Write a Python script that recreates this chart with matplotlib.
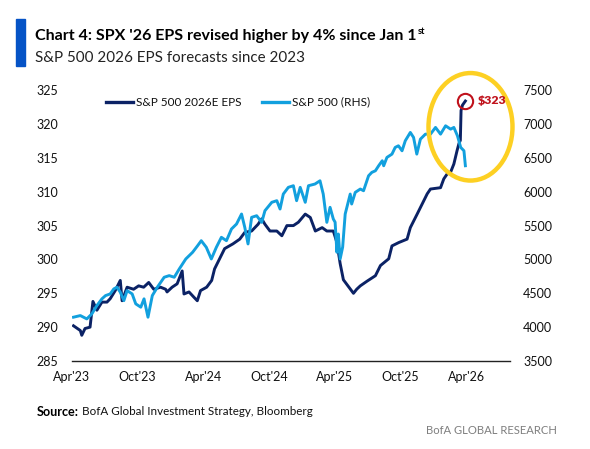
import matplotlib
matplotlib.use("Agg")
import matplotlib.pyplot as plt
from matplotlib.patches import Ellipse, Rectangle
from matplotlib.lines import Line2D
import pandas as pd

# ---------------- data ----------------
eps_dates = ["2023-04-06", "2023-04-25", "2023-04-29", "2023-05-08", "2023-05-22", "2023-05-30",
             "2023-06-10", "2023-06-24", "2023-07-08", "2023-07-17", "2023-07-31", "2023-08-14",
             "2023-08-19", "2023-09-02", "2023-09-20", "2023-10-04", "2023-10-18", "2023-11-01",
             "2023-11-15", "2023-12-04", "2023-12-18", "2023-12-22", "2024-01-05", "2024-01-19",
             "2024-02-02", "2024-02-07", "2024-02-21", "2024-03-06", "2024-03-15", "2024-03-24",
             "2024-04-10", "2024-04-24", "2024-05-02", "2024-05-16", "2024-05-30", "2024-06-22",
             "2024-07-11", "2024-07-25", "2024-08-13", "2024-08-31", "2024-09-10", "2024-09-19",
             "2024-10-03", "2024-10-22", "2024-11-05", "2024-11-19", "2024-12-07", "2024-12-21",
             "2025-01-09", "2025-01-23", "2025-02-06", "2025-02-25", "2025-03-10", "2025-03-28",
             "2025-04-07", "2025-04-16", "2025-04-25", "2025-05-09", "2025-05-23", "2025-06-01",
             "2025-06-11", "2025-06-30", "2025-07-23", "2025-08-06", "2025-08-29", "2025-09-07",
             "2025-09-26", "2025-10-19", "2025-10-28", "2025-11-16", "2025-11-30", "2025-12-14",
             "2025-12-23", "2026-01-20", "2026-01-29", "2026-02-07", "2026-02-17", "2026-02-26",
             "2026-03-07", "2026-03-12", "2026-03-16", "2026-03-18", "2026-03-22", "2026-03-30"]
eps_values = [290.2, 289.5, 288.8, 289.8, 290.0, 293.8,
              292.5, 293.7, 293.7, 294.2, 295.4, 296.9,
              293.9, 295.9, 295.6, 296.1, 295.9, 296.6,
              295.6, 295.9, 295.6, 295.2, 295.9, 296.4,
              298.3, 294.9, 295.2, 294.4, 293.9, 295.4,
              295.9, 296.9, 298.6, 300.1, 301.6, 302.3,
              303.0, 304.0, 304.2, 305.2, 306.0, 305.2,
              304.2, 304.2, 303.5, 305.0, 305.0, 305.5,
              306.7, 306.2, 304.2, 304.7, 304.2, 304.2,
              302.5, 299.4, 297.0, 296.0, 295.0, 295.6,
              296.1, 296.8, 297.6, 299.1, 300.1, 302.0,
              302.5, 303.0, 304.7, 306.7, 308.2, 309.7,
              310.4, 310.6, 311.9, 312.6, 312.9, 314.1,
              316.1, 317.1, 317.6, 322.0, 322.8, 323.4]

spx_dates = ["2023-04-06", "2023-04-25", "2023-05-13", "2023-05-27", "2023-06-10", "2023-06-24",
             "2023-07-04", "2023-07-17", "2023-07-27", "2023-08-05", "2023-08-14", "2023-08-24",
             "2023-09-02", "2023-09-16", "2023-09-26", "2023-10-10", "2023-10-19", "2023-10-30",
             "2023-11-11", "2023-11-25", "2023-12-14", "2023-12-28", "2024-01-11", "2024-01-25",
             "2024-02-12", "2024-03-02", "2024-03-16", "2024-03-26", "2024-04-09", "2024-04-23",
             "2024-05-07", "2024-05-21", "2024-06-04", "2024-06-18", "2024-07-02", "2024-07-16",
             "2024-07-25", "2024-08-03", "2024-08-13", "2024-08-27", "2024-09-10", "2024-09-19",
             "2024-10-08", "2024-10-22", "2024-10-31", "2024-11-09", "2024-11-23", "2024-12-07",
             "2024-12-16", "2024-12-26", "2025-01-09", "2025-01-18", "2025-02-05", "2025-02-19",
             "2025-02-28", "2025-03-10", "2025-03-19", "2025-03-28", "2025-04-02", "2025-04-07",
             "2025-04-11", "2025-04-16", "2025-04-23", "2025-04-30", "2025-05-14", "2025-05-18",
             "2025-05-28", "2025-06-11", "2025-06-20", "2025-07-04", "2025-07-13", "2025-07-23",
             "2025-08-01", "2025-08-11", "2025-08-15", "2025-08-24", "2025-09-07", "2025-09-16",
             "2025-09-25", "2025-10-05", "2025-10-14", "2025-10-28", "2025-11-06", "2025-11-15",
             "2025-11-25", "2025-12-09", "2025-12-23", "2026-01-06", "2026-01-20", "2026-02-03",
             "2026-02-17", "2026-02-26", "2026-03-08", "2026-03-17", "2026-03-26", "2026-03-30"]
spx_values = [4147, 4171, 4122, 4196, 4319, 4418,
              4466, 4491, 4565, 4590, 4516, 4392,
              4540, 4491, 4344, 4295, 4418, 4147,
              4466, 4590, 4737, 4761, 4737, 4860,
              5007, 5106, 5204, 5277, 5180, 5007,
              5180, 5327, 5277, 5450, 5523, 5671,
              5474, 5229, 5622, 5646, 5548, 5720,
              5844, 5868, 5745, 5966, 6065, 6089,
              5868, 6065, 5844, 6089, 6114, 6162,
              5966, 5548, 5770, 5597, 5550, 5106,
              5376, 5007, 5184, 5671, 5966, 5819,
              5991, 6040, 6015, 6236, 6286, 6310,
              6384, 6458, 6384, 6507, 6556, 6655,
              6679, 6605, 6753, 6876, 6802, 6556,
              6777, 6851, 6851, 6950, 6851, 6974,
              6925, 6950, 6826, 6655, 6605, 6384]

x_tick_dates = ["2023-04-01", "2023-10-01", "2024-04-01", "2024-10-01",
                "2025-04-01", "2025-10-01", "2026-04-01"]
x_tick_labels = ["Apr'23", "Oct'23", "Apr'24", "Oct'24", "Apr'25", "Oct'25", "Apr'26"]
eps_ticks = [285, 290, 295, 300, 305, 310, 315, 320, 325]
spx_ticks = [3500, 4000, 4500, 5000, 5500, 6000, 6500, 7000, 7500]

eps_label = "S&P 500 2026E EPS"
spx_label = "S&P 500 (RHS)"
callout_text = r"\$323"

# ---------------- style ----------------
W, H = 590, 449
FONT = "Lato"
NAVY = "#0B2265"
LIGHT = "#12A0DE"
RED = "#C0121C"
GOLD = "#FDD023"
BLUE = "#0553C6"
plt.rcParams["font.family"] = [FONT, "DejaVu Sans"]

fig = plt.figure(figsize=(W / 100, H / 100), dpi=100)
fig.patch.set_facecolor("white")


def fx(px):
    return px / W


def fy(py):
    return 1 - py / H


ax_left, ax_right, ax_top, ax_bot = 71.7, 510, 90.2, 361
ax = fig.add_axes([fx(ax_left), fy(ax_bot), (ax_right - ax_left) / W, (ax_bot - ax_top) / H])
ax2 = ax.twinx()

ed = pd.to_datetime(eps_dates)
sd = pd.to_datetime(spx_dates)

ax.plot(ed, eps_values, color=NAVY, lw=2.1, solid_joinstyle="round", zorder=3)
ax2.plot(sd, spx_values, color=LIGHT, lw=2.1, solid_joinstyle="round", zorder=3)

ax.set_ylim(eps_ticks[0], eps_ticks[-1])
ax2.set_ylim(spx_ticks[0], spx_ticks[-1])
ax.set_yticks(eps_ticks)
ax2.set_yticks(spx_ticks)
ax.set_xlim(pd.Timestamp("2023-04-01"), pd.Timestamp("2026-08-01"))
ax.set_xticks(pd.to_datetime(x_tick_dates))
ax.set_xticklabels(x_tick_labels)

for a in (ax, ax2):
    for s in a.spines.values():
        s.set_visible(False)
ax.spines["bottom"].set_visible(True)
ax.spines["bottom"].set_color("#222222")
ax.spines["bottom"].set_linewidth(1.0)
ax.tick_params(axis="x", length=0, pad=7, labelsize=9, colors="#111111")
ax.tick_params(axis="y", length=0, pad=9.5, labelsize=9, colors="#111111")
ax2.tick_params(axis="y", length=0, pad=9.5, labelsize=9, colors="#111111")
ax.set_zorder(1)
ax2.set_zorder(2)
ax.patch.set_visible(False)
ax2.patch.set_visible(False)

# yellow ellipse
fig.add_artist(Ellipse((fx(470.5), fy(126.8)), 84 / W, 107.5 / H, fill=False,
                       ec=GOLD, lw=3.2, transform=fig.transFigure, zorder=10))

# red circle at last EPS point
ax.plot([ed[-1]], [eps_values[-1]], marker="o", ms=11, mfc="none", mec=RED, mew=1.5,
        zorder=5, clip_on=False)
renderer = fig.canvas.get_renderer()


def fit(t, target):
    for _ in range(3):
        w = t.get_window_extent(renderer).width
        t.set_fontsize(t.get_fontsize() * target / w)
    return t


fig.canvas.draw()
px_last = ax.transData.transform((ax.xaxis.convert_units(ed[-1]), eps_values[-1]))
ct = fig.text((px_last[0] + 12) / W, (px_last[1] + 1) / H, callout_text, color=RED,
              fontsize=9, fontweight="heavy", va="center", ha="left", zorder=20)
fit(ct, 29)

# legend (manual)
fig.add_artist(Line2D([fx(106), fx(133)], [fy(102), fy(102)], color=NAVY, lw=2.4,
                      transform=fig.transFigure))
fig.add_artist(Line2D([fx(262), fx(289)], [fy(102), fy(102)], color=LIGHT, lw=2.4,
                      transform=fig.transFigure))
l1 = fig.text(fx(135.5), fy(102), eps_label, fontsize=8.5, color="#111111", va="center", ha="left")
fit(l1, 105)
l2 = fig.text(fx(292), fy(102), spx_label, fontsize=8.5, color="#111111", va="center", ha="left")
fit(l2, 78)

# header
fig.add_artist(Rectangle((fx(16), fy(66.3)), 9.3 / W, 47.8 / H, color=BLUE,
                         transform=fig.transFigure))
title = fig.text(fx(35), fy(40), "Chart 4: SPX '26 EPS revised higher by 4% since Jan 1",
                 fontsize=13, fontweight="bold", color="#000000", va="baseline", ha="left")
fit(title, 381)
tb = title.get_window_extent(renderer)
fig.text((tb.x1 + 1) / W, fy(33.5), "st", fontsize=title.get_fontsize() * 0.58,
         fontweight="bold", color="#000000", va="baseline", ha="left")
sub = fig.text(fx(35), fy(62), "S&P 500 2026 EPS forecasts since 2023", fontsize=12,
               color="#222222", va="baseline", ha="left")
fit(sub, 270)

# footer
src_b = fig.text(fx(36.7), fy(411.7), "Source:", fontsize=9, fontweight="bold",
                 color="#000000", va="center", ha="left")
fit(src_b, 42)
sb = src_b.get_window_extent(renderer)
src = fig.text((sb.x1 + 3) / W, fy(411.7), "BofA Global Investment Strategy, Bloomberg",
               fontsize=9, color="#111111", va="center", ha="left")
fit(src, 232)
brand = fig.text(fx(557), fy(430), "BofA GLOBAL RESEARCH", fontsize=9, color="#7F7F7F",
                 va="center", ha="right")
fit(brand, 131)

fig.savefig("out.png", dpi=100, facecolor="white")
